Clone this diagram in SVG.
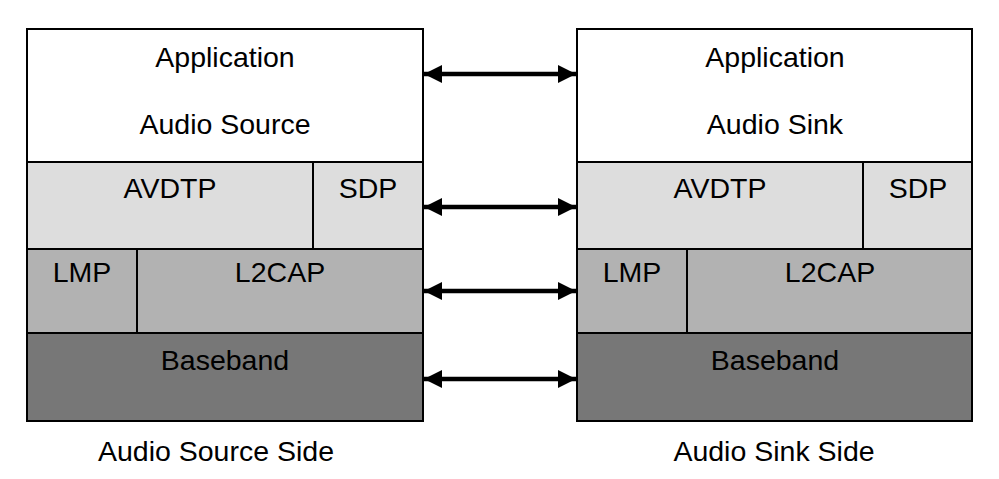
<svg xmlns="http://www.w3.org/2000/svg" width="999" height="479" viewBox="0 0 999 479">
<style>
.box{stroke:#000;stroke-width:2}
.app{fill:#fff}
.l2{fill:#dddddd}
.l3{fill:#b2b2b2}
.bb{fill:#777777}
text{font-family:"Liberation Sans",Arial,sans-serif;font-size:28.5px;fill:#000;text-anchor:middle}
.conn{stroke:#000;stroke-width:4.5;fill:none}
</style>
<defs>
<marker id="ah" markerUnits="userSpaceOnUse" markerWidth="19" markerHeight="19" viewBox="0 0 19 19" refX="18" refY="9.5" orient="auto-start-reverse">
<path d="M0,0.5 L18,9.5 L0,18.5 Z" fill="#000"/>
</marker>
</defs>
<rect width="999" height="479" fill="#fff"/>
<g id="source-side">
<g id="src-app"><rect class="box app" x="27" y="29" width="396" height="133"/><text x="225" y="67">Application</text><text x="225" y="134">Audio Source</text></g>
<g id="src-avdtp"><rect class="box l2" x="27" y="162" width="286" height="87"/><text x="170" y="198">AVDTP</text></g>
<g id="src-sdp"><rect class="box l2" x="313" y="162" width="110" height="87"/><text x="368" y="198">SDP</text></g>
<g id="src-lmp"><rect class="box l3" x="27" y="249" width="110" height="84"/><text x="82" y="282">LMP</text></g>
<g id="src-l2cap"><rect class="box l3" x="137" y="249" width="286" height="84"/><text x="280" y="282">L2CAP</text></g>
<g id="src-baseband"><rect class="box bb" x="27" y="333" width="396" height="88"/><text x="225" y="370">Baseband</text></g>
<text x="216" y="461">Audio Source Side</text>
</g>
<g id="sink-side">
<g id="snk-app"><rect class="box app" x="577" y="29" width="395" height="133"/><text x="775" y="67">Application</text><text x="775" y="134">Audio Sink</text></g>
<g id="snk-avdtp"><rect class="box l2" x="577" y="162" width="286" height="87"/><text x="720" y="198">AVDTP</text></g>
<g id="snk-sdp"><rect class="box l2" x="863" y="162" width="109" height="87"/><text x="918" y="198">SDP</text></g>
<g id="snk-lmp"><rect class="box l3" x="577" y="249" width="110" height="84"/><text x="632" y="282">LMP</text></g>
<g id="snk-l2cap"><rect class="box l3" x="687" y="249" width="285" height="84"/><text x="830" y="282">L2CAP</text></g>
<g id="snk-baseband"><rect class="box bb" x="577" y="333" width="395" height="88"/><text x="775" y="370">Baseband</text></g>
<text x="774" y="461">Audio Sink Side</text>
</g>
<g id="connectors">
<line class="conn" x1="424" y1="74" x2="576" y2="74" marker-start="url(#ah)" marker-end="url(#ah)"/>
<line class="conn" x1="424" y1="207" x2="576" y2="207" marker-start="url(#ah)" marker-end="url(#ah)"/>
<line class="conn" x1="424" y1="291" x2="576" y2="291" marker-start="url(#ah)" marker-end="url(#ah)"/>
<line class="conn" x1="424" y1="379" x2="576" y2="379" marker-start="url(#ah)" marker-end="url(#ah)"/>
</g>
</svg>
